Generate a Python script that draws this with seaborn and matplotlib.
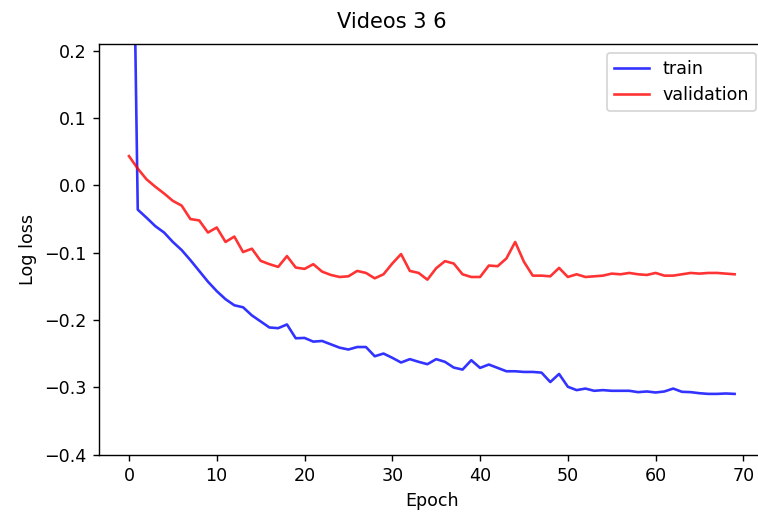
import matplotlib
matplotlib.use("Agg")
import matplotlib.pyplot as plt
import seaborn as sns
import numpy as np

epochs = list(range(70))

train = [0.85, -0.036, -0.048, -0.0605, -0.070, -0.084, -0.096, -0.111, -0.127, -0.143,
         -0.157, -0.169, -0.178, -0.181, -0.193, -0.202, -0.211, -0.212, -0.2065, -0.227,
         -0.2265, -0.232, -0.231, -0.236, -0.241, -0.2437, -0.240, -0.240, -0.2537, -0.2497,
         -0.256, -0.263, -0.258, -0.262, -0.2655, -0.258, -0.262, -0.2705, -0.2735, -0.2596,
         -0.271, -0.266, -0.271, -0.276, -0.276, -0.277, -0.277, -0.278, -0.292, -0.280,
         -0.299, -0.304, -0.3017, -0.305, -0.304, -0.305, -0.305, -0.305, -0.307, -0.306,
         -0.3075, -0.306, -0.3017, -0.3065, -0.307, -0.3086, -0.3096, -0.3096, -0.309, -0.3096]

validation = [0.0435, 0.025, 0.009, -0.002, -0.012, -0.023, -0.030, -0.050, -0.052, -0.070,
              -0.0625, -0.084, -0.076, -0.099, -0.094, -0.112, -0.117, -0.121, -0.105, -0.122,
              -0.124, -0.117, -0.128, -0.133, -0.136, -0.135, -0.127, -0.130, -0.138, -0.132,
              -0.116, -0.102, -0.127, -0.130, -0.140, -0.123, -0.1125, -0.116, -0.132, -0.136,
              -0.136, -0.119, -0.120, -0.1085, -0.084, -0.1135, -0.134, -0.134, -0.135, -0.1225,
              -0.136, -0.132, -0.136, -0.135, -0.134, -0.131, -0.132, -0.130, -0.132, -0.133,
              -0.130, -0.134, -0.134, -0.132, -0.130, -0.131, -0.130, -0.130, -0.131, -0.132]

title = "Videos 3 6"
xlabel = "Epoch"
ylabel = "Log loss"

DPI = 126
fig = plt.figure(figsize=(758 / DPI, 513 / DPI), dpi=DPI)
ax = fig.add_axes([0.1302, 0.1135, 0.8789, 0.8008])

sns.lineplot(x=epochs, y=train, ax=ax, color="blue", alpha=0.8, label="train")
sns.lineplot(x=epochs, y=validation, ax=ax, color="red", alpha=0.8, label="validation")

ax.set_xlim(-3.45, 72.45)
ax.set_ylim(-0.4, 0.21)
ax.set_xticks([0, 10, 20, 30, 40, 50, 60, 70])
ax.set_yticks([-0.4, -0.3, -0.2, -0.1, 0.0, 0.1, 0.2])
ax.set_xlabel(xlabel)
ax.set_ylabel(ylabel)
ax.set_title(title, x=0.44, pad=9)
ax.spines["right"].set_visible(False)
ax.legend(loc="upper right")

fig.savefig("out.png", dpi=DPI)
